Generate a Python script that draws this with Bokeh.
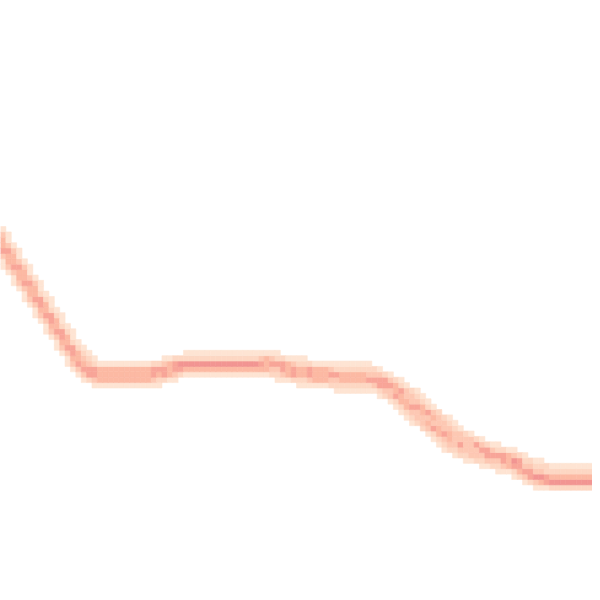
import numpy as np
from bokeh.plotting import figure
from bokeh.models import ColumnDataSource, LinearColorMapper
from bokeh.embed import file_html
from bokeh.resources import INLINE

# sample times shared by all runs
t = [0, 8, 14, 17, 20, 30, 37, 44, 50, 55, 60, 68, 75.6, 80, 86, 92, 98, 104, 109, 114, 120]

# six overlapping runs
run1 = [68.8, 56.8, 47.8, 44.0, 42.8, 42.8, 44.9, 44.9, 45.0, 44.8, 43.4, 42.4, 42.0, 39.2, 34.0, 29.0, 26.8, 25.0, 22.2, 21.9, 21.9]
run2 = [69.6, 57.6, 48.6, 44.6, 43.4, 43.3, 45.3, 45.3, 45.6, 45.4, 44.0, 43.0, 42.6, 40.0, 34.8, 29.8, 27.4, 25.6, 22.6, 22.3, 22.3]
run3 = [70.4, 58.4, 49.4, 45.2, 44.0, 43.8, 46.0, 46.0, 46.2, 46.0, 44.6, 43.6, 43.2, 40.6, 35.6, 30.6, 28.0, 26.2, 23.0, 22.7, 22.7]
run4 = [71.2, 59.2, 50.0, 46.0, 44.4, 44.3, 46.3, 46.3, 46.5, 46.4, 45.0, 44.0, 43.6, 41.4, 36.4, 31.2, 28.6, 26.8, 23.4, 23.1, 23.1]
run5 = [72.0, 60.0, 50.8, 46.6, 45.0, 44.8, 46.7, 46.7, 46.8, 47.0, 45.6, 44.6, 44.2, 42.0, 37.2, 32.0, 29.0, 27.2, 23.8, 23.5, 23.5]
run6 = [72.8, 60.8, 51.6, 47.2, 45.6, 45.3, 47.1, 47.1, 47.3, 47.6, 46.2, 45.2, 44.8, 42.8, 38.0, 32.8, 29.6, 27.6, 25.2, 24.8, 24.8]
runs = [run1, run2, run3, run4, run5, run6]

palette = ["#FEE4D3", "#FDD7C3", "#FDC8B3", "#FCB9A3", "#F8A598", "#F29592", "#EA878F"]

# ---- line-density aggregation onto a coarse grid (datashader-like) ----
XMAX = 120.0
N = 110
cell = XMAX / N
A = np.zeros((N, N))
tx = np.array(t, dtype=float)
for r in runs:
    ry = np.array(r, dtype=float)
    for j in range(N):
        x0, x1 = j * cell, (j + 1) * cell
        xs = np.concatenate(([x0, x1], tx[(tx > x0) & (tx < x1)]))
        ys = np.interp(xs, tx, ry)
        r0 = max(int(np.floor(ys.min() / cell)), 0)
        r1 = min(int(np.floor(ys.max() / cell)), N - 1)
        A[r0:r1 + 1, j] += 1.0 / np.sqrt(r1 - r0 + 1)

# light halo around the aggregated lines
P = np.pad(A, 1)
nb = P[:-2, 1:-1] + P[2:, 1:-1] + P[1:-1, :-2] + P[1:-1, 2:]
S = np.where(A > 0, A, 0.2 * nb)

rows, cols = np.nonzero(S > 0.15)
src = ColumnDataSource(dict(x=(cols + 0.5) * cell, y=(rows + 0.5) * cell, v=S[rows, cols]))

p = figure(width=592, height=592, x_range=(0, XMAX), y_range=(0, XMAX),
           output_backend="svg", toolbar_location=None, min_border=0)
p.axis.visible = False
p.grid.visible = False
p.outline_line_color = None
p.background_fill_color = "white"
p.border_fill_color = "white"

mapper = LinearColorMapper(palette=palette, low=0, high=4.2)
p.rect(x="x", y="y", width=cell, height=cell, source=src,
       fill_color={"field": "v", "transform": mapper},
       line_color={"field": "v", "transform": mapper}, line_width=0.6)

open("out.html", "w").write(file_html(p, INLINE))
